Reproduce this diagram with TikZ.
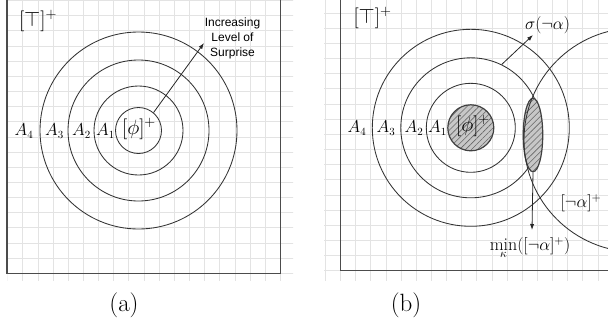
\documentclass[tikz,border=0pt]{standalone}
\usepackage{fontspec}
\newfontfamily\mysans{Liberation Sans}
\usetikzlibrary{arrows.meta,patterns.meta,shapes.geometric}
\newcommand\myfs[1]{\fontsize{#1}{#1}\selectfont}
\begin{document}
\begin{tikzpicture}[x=1pt,y=-1pt,
  gridline/.style={draw=black!11, line width=0.9pt},
  frameline/.style={draw=black!70, line width=1.3pt},
  ring/.style={circle, draw=black!80, line width=0.85pt, inner sep=0pt},
  hatched/.style={draw=black!75, line width=1.2pt, inner sep=0pt,
    preaction={fill=black!22},
    pattern={Lines[angle=45,distance=4.2pt,line width=0.6pt]}, pattern color=black!60},
  lbl/.style={inner sep=0pt, font=\myfs{16}},
  mlbl/.style={inner sep=0pt, font=\myfs{18}},
  arr/.style={draw=black!85, line width=0.8pt, -{Latex[length=6pt,width=4.2pt]}}
]
\useasboundingbox (0,0) rectangle (608,330);
\clip (0,0) rectangle (608,330);

% ---------- grids ----------
\begin{scope}
  \clip (7.7,0) rectangle (293,280);
  \foreach \i in {0,...,19} \draw[gridline] (7.7+15.15*\i,0) -- ++(0,285);
  \foreach \j in {0,...,19} \draw[gridline] (0,273.3-15.15*\j) -- ++(300,0);
\end{scope}
\begin{scope}
  \clip (324,0) rectangle (608,280);
  \foreach \i in {-2,...,19} \draw[gridline] (340.5+15.15*\i,0) -- ++(0,285);
  \foreach \j in {-1,...,19} \draw[gridline] (320,270.7-15.15*\j) -- ++(300,0);
\end{scope}

% ---------- frames ----------
\draw[frameline] (7,-3) -- (7,273.3) -- (280.7,273.3) -- (280.7,-3);
\draw[frameline] (340.7,-3) -- (340.7,270.7) -- (620,270.7);

% ---------- panel (a) ----------
\node[ring, minimum size=197pt] (a4) at (138.5,130.5) {};
\node[ring, minimum size=141pt] (a3) at (138.5,130.5) {};
\node[ring, minimum size=89pt]  (a2) at (138.5,130.5) {};
\node[ring, minimum size=46pt]  (a1) at (138.5,130.5) {};
\node[inner sep=0pt, font=\myfs{22}] (phia) at (139,129) {$[\phi]^+$};
\node[lbl] (A4a) at (24,131) {$A_4$};
\node[lbl] (A3a) at (54.5,131) {$A_3$};
\node[lbl] (A2a) at (81.5,131) {$A_2$};
\node[lbl] (A1a) at (105.5,131) {$A_1$};
\node[inner sep=0pt, font=\myfs{19.5}] (topa) at (38,21) {$[\top]^+$};
\node[inner sep=0pt, align=center, font=\mysans\fontsize{12}{15}\selectfont] (surp) at (232.5,38)
  {Increasing\\Level of\\Surprise};
\coordinate (surpend) at (204,43);
\draw[arr] (a1.50) -- (surpend);

% ---------- panel (b) ----------
\node[ring, minimum size=197pt] (b3) at (470.8,127.8) {};
\node[ring, minimum size=140pt] (b2) at (470.8,127.8) {};
\node[ring, minimum size=89pt]  (b1) at (470.8,127.8) {};
\node[circle, hatched, minimum size=46pt] (phib) at (470.8,127.8) {};
\node[inner sep=0pt, font=\myfs{20}] (phibl) at (473,126) {$[\phi]^+$};
\node[lbl] (A4b) at (357,128) {$A_4$};
\node[lbl] (A3b) at (386,128) {$A_3$};
\node[lbl] (A2b) at (414,128) {$A_2$};
\node[lbl] (A1b) at (437.5,128) {$A_1$};
\node[inner sep=0pt, font=\myfs{19.5}] (topb) at (372.5,18) {$[\top]^+$};

\node[ellipse, hatched, minimum width=19.5pt, minimum height=73.5pt] (lens) at (533,135) {};
\node[circle, draw=black!80, line width=0.85pt, inner sep=0pt, minimum size=224pt] (nalpha) at (636,140) {};

\node[mlbl] (sigma) at (547.5,25) {$\sigma(\neg\alpha)$};
\coordinate (sigend) at (533,35);
\draw[arr] (b2.64) -- (sigend);

\node[mlbl, anchor=north] (minl) at (530,237) {$\min\limits_{\kappa}([\neg\alpha]^+)$};
\coordinate (minend) at (532,230);
\draw[arr] (lens.south) -- (minend);

\node[mlbl] (nal) at (581,203) {$[\neg\alpha]^+$};

% ---------- captions ----------
\node[inner sep=0pt, font=\myfs{25}] (capa) at (124,305) {(a)};
\node[inner sep=0pt, font=\myfs{25}] (capb) at (406,305) {(b)};
\end{tikzpicture}
\end{document}
